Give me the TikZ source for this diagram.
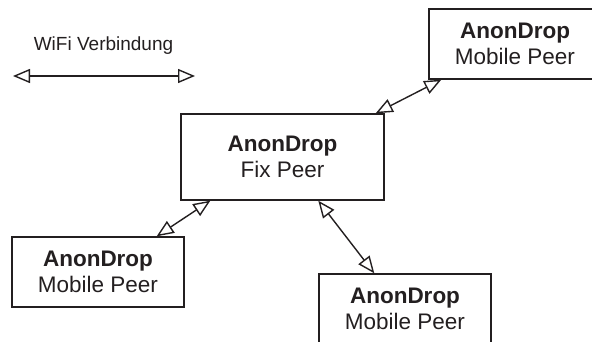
\documentclass[tikz,border=0pt]{standalone}
\usepackage{fontspec}
\setmainfont{Liberation Sans}
\usetikzlibrary{arrows.meta,calc}
\definecolor{inkgray}{RGB}{35,31,32}

\begin{document}
\begin{tikzpicture}[x=1pt, y=-1pt, line width=1.4pt, draw=inkgray, text=inkgray,
    peerbox/.style={draw, rectangle, inner sep=0pt, align=center,
        font=\fontsize{22.5}{26}\selectfont},
    mobilebox/.style={peerbox, minimum width=172pt, minimum height=70pt},
    wifilink/.style={{Triangle[open, length=17pt, width=14pt]}-{Triangle[open, length=17pt, width=14pt]}}]
    \clip (0,0) rectangle (592,342);
    % legend
    \node[font=\fontsize{19}{22}\selectfont] (wifi) at (103.5,46) {WiFi Verbindung};
    \coordinate (wifiL) at (13,76);
    \coordinate (wifiR) at (195,76);
    \draw[wifilink] (wifiL) -- (wifiR);
    % peers
    \node[peerbox, minimum width=203pt, minimum height=86pt] (fix) at (282.5,157) {\textbf{AnonDrop}\\Fix Peer};
    \node[mobilebox] (mpTop) at (515,44) {\textbf{AnonDrop}\\Mobile Peer};
    \node[mobilebox] (mpLeft) at (98,272) {\textbf{AnonDrop}\\Mobile Peer};
    \node[mobilebox] (mpBottom) at (405,309) {\textbf{AnonDrop}\\Mobile Peer};
    \draw[wifilink] ($(fix.north east)+(-9,0)$) -- ($(mpTop.south west)+(13,0)$);
    \draw[wifilink] ($(fix.south west)+(30,0)$) -- ($(mpLeft.north east)+(-28,0)$);
    \draw[wifilink] ($(fix.south west)+(138,0)$) -- ($(mpBottom.north west)+(56,0)$);
\end{tikzpicture}
\end{document}
